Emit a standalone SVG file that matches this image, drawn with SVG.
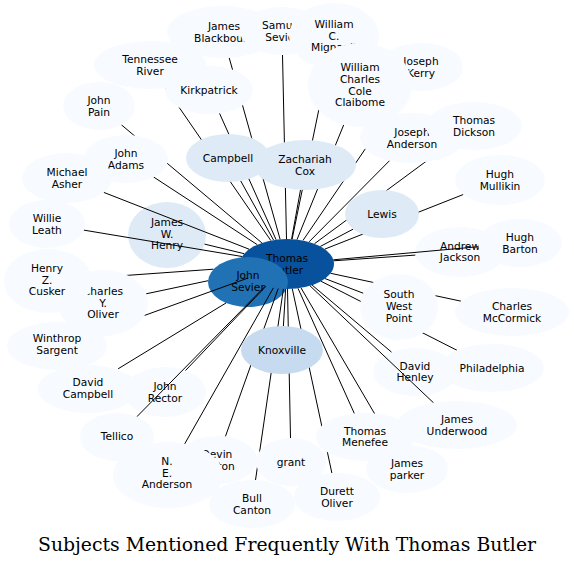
<svg xmlns="http://www.w3.org/2000/svg" width="574" height="567" viewBox="0 0 574 567">
<style>
.a{fill:#f7fbff}
.b{fill:#deebf7}
.c{fill:#c6dbef}
.d{fill:#2171b5}
.e{fill:#08519c}
text{font-family:"DejaVu Sans","Liberation Sans",sans-serif;font-size:10.67px;text-anchor:middle;fill:#000}
#edges line{stroke:#000;stroke-width:1}
.title{font-family:"DejaVu Serif","Liberation Serif",serif;font-size:18.67px}
</style>
<rect width="574" height="567" fill="#fff"/>
<g id="n-thomas-butler"><ellipse class="e" cx="287" cy="264" rx="47" ry="25"/><text x="287" y="261.8">Thomas</text><text x="287" y="273.5">Butler</text></g>
<g id="n-john-sevier"><ellipse class="d" cx="248" cy="282" rx="40" ry="25"/><text x="248" y="278.8">John</text><text x="248" y="290.5">Sevier</text></g>
<g id="n-james-w-henry"><ellipse class="b" cx="167" cy="235" rx="39" ry="33"/><text x="167" y="225.9">James</text><text x="167" y="237.6">W.</text><text x="167" y="249.3">Henry</text></g>
<g id="n-andrew-jackson"><ellipse class="a" cx="460" cy="252" rx="45" ry="25"/><text x="460" y="249.5">Andrew</text><text x="460" y="261.2">Jackson</text></g>
<g id="n-john-rector"><ellipse class="a" cx="165" cy="392" rx="41" ry="25"/><text x="165" y="389.8">John</text><text x="165" y="401.5">Rector</text></g>
<g id="n-david-henley"><ellipse class="a" cx="415" cy="372" rx="42" ry="24"/><text x="415" y="369.5">David</text><text x="415" y="381.2">Henley</text></g>
<g id="edges">
<line x1="280.1" y1="239.3" x2="229.2" y2="57.8"/>
<line x1="286.5" y1="239" x2="282.5" y2="55"/>
<line x1="292.1" y1="239.1" x2="327.3" y2="68.6"/>
<line x1="270.8" y1="240.5" x2="165.8" y2="88"/>
<line x1="276.1" y1="239.7" x2="219.5" y2="113.3"/>
<line x1="303" y1="240.4" x2="405.8" y2="89.4"/>
<line x1="297" y1="239.6" x2="343.7" y2="124.9"/>
<line x1="261.9" y1="242.9" x2="121.4" y2="124.8"/>
<line x1="314.5" y1="243.7" x2="447" y2="145.9"/>
<line x1="309" y1="241.9" x2="389.6" y2="160.6"/>
<line x1="257.3" y1="244.7" x2="153.6" y2="177"/>
<line x1="273.5" y1="240" x2="240.7" y2="180.9"/>
<line x1="291.6" y1="239.1" x2="300.5" y2="189.9"/>
<line x1="249.1" y1="249.2" x2="103.8" y2="192.4"/>
<line x1="324.8" y1="249.1" x2="463.3" y2="194.5"/>
<line x1="320.4" y1="246.4" x2="353.2" y2="229.1"/>
<line x1="242.1" y1="256.5" x2="83.7" y2="230.1"/>
<line x1="244.2" y1="253.7" x2="204.5" y2="244.1"/>
<line x1="333.3" y1="259.8" x2="478.5" y2="246.7"/>
<line x1="333.6" y1="260.8" x2="415.3" y2="255.1"/>
<line x1="213.5" y1="269.2" x2="91.8" y2="277.9"/>
<line x1="208.2" y1="280.7" x2="146.2" y2="293.8"/>
<line x1="325.1" y1="278.6" x2="363.4" y2="293.3"/>
<line x1="330.6" y1="273.3" x2="461.1" y2="301.2"/>
<line x1="248.1" y1="278" x2="97" y2="332.6"/>
<line x1="285.6" y1="289" x2="283.4" y2="326"/>
<line x1="321.1" y1="281.3" x2="457" y2="350.3"/>
<line x1="312.1" y1="285.1" x2="391.5" y2="352.1"/>
<line x1="226" y1="303" x2="118.1" y2="368.8"/>
<line x1="265.9" y1="286.3" x2="185.5" y2="370.5"/>
<line x1="310" y1="285.8" x2="433.6" y2="402.9"/>
<line x1="298" y1="288.3" x2="354.4" y2="413.6"/>
<line x1="265.2" y1="286.2" x2="136.9" y2="416.7"/>
<line x1="278.2" y1="288.6" x2="225.4" y2="436.5"/>
<line x1="287.5" y1="289" x2="290.5" y2="438"/>
<line x1="301" y1="287.9" x2="393.7" y2="446.3"/>
<line x1="273.4" y1="287.9" x2="184.6" y2="444"/>
<line x1="292.3" y1="288.8" x2="331.9" y2="473.1"/>
<line x1="283.4" y1="288.9" x2="255.5" y2="480.1"/>
</g>
<g id="n-james-blackbourn"><ellipse class="a" cx="222" cy="32" rx="55" ry="26"/><text x="224" y="29.8">James</text><text x="224" y="41.5">Blackbourn</text></g>
<g id="n-samuel-sevier"><ellipse class="a" cx="282" cy="31" rx="42" ry="24"/><text x="282" y="28.8">Samuel</text><text x="282" y="40.5">Sevier</text></g>
<g id="n-william-c-mignault"><ellipse class="a" cx="334" cy="36" rx="45" ry="33"/><text x="334" y="27.9">William</text><text x="334" y="39.6">C.</text><text x="334" y="51.3">Mignault</text></g>
<g id="n-joseph-kerry"><ellipse class="a" cx="421" cy="67" rx="42" ry="24"/><text x="421" y="64.8">Joseph</text><text x="421" y="76.5">Kerry</text></g>
<g id="n-william-charles-cole-claiborne"><ellipse class="a" cx="360" cy="85" rx="52" ry="42"/><text x="360" y="71.1">William</text><text x="360" y="82.8">Charles</text><text x="360" y="94.5">Cole</text><text x="360" y="106.2">Claibome</text></g>
<g id="n-tennessee-river"><ellipse class="a" cx="150" cy="65" rx="56" ry="24"/><text x="150" y="62.8">Tennessee</text><text x="150" y="74.5">River</text></g>
<g id="n-kirkpatrick"><ellipse class="a" cx="209" cy="90" rx="44" ry="24"/><text x="209" y="93.6">Kirkpatrick</text></g>
<g id="n-john-pain"><ellipse class="a" cx="99" cy="106" rx="36" ry="24"/><text x="99" y="103.8">John</text><text x="99" y="115.5">Pain</text></g>
<g id="n-joseph-anderson"><ellipse class="a" cx="412" cy="138" rx="52" ry="25"/><text x="412" y="135.8">Joseph</text><text x="412" y="147.5">Anderson</text></g>
<g id="n-thomas-dickson"><ellipse class="a" cx="474" cy="126" rx="48" ry="24"/><text x="474" y="123.8">Thomas</text><text x="474" y="135.5">Dickson</text></g>
<g id="n-hugh-mullikin"><ellipse class="a" cx="500" cy="180" rx="45" ry="25"/><text x="500" y="177.8">Hugh</text><text x="500" y="189.5">Mullikin</text></g>
<g id="n-john-adams"><ellipse class="a" cx="126" cy="159" rx="42" ry="24"/><text x="126" y="156.8">John</text><text x="126" y="168.5">Adams</text></g>
<g id="n-michael-asher"><ellipse class="a" cx="67" cy="178" rx="45" ry="25"/><text x="67" y="175.8">Michael</text><text x="67" y="187.5">Asher</text></g>
<g id="n-campbell"><ellipse class="b" cx="228" cy="158" rx="42" ry="24"/><text x="228" y="161.6">Campbell</text></g>
<g id="n-zachariah-cox"><ellipse class="b" cx="305" cy="165" rx="51" ry="25"/><text x="305" y="162.8">Zachariah</text><text x="305" y="174.5">Cox</text></g>
<g id="n-lewis"><ellipse class="b" cx="382" cy="214" rx="37" ry="24"/><text x="382" y="217.6">Lewis</text></g>
<g id="n-willie-leath"><ellipse class="a" cx="47" cy="224" rx="38" ry="24"/><text x="47" y="221.8">Willie</text><text x="47" y="233.5">Leath</text></g>
<g id="n-hugh-barton"><ellipse class="a" cx="520" cy="243" rx="42" ry="24"/><text x="520" y="240.8">Hugh</text><text x="520" y="252.5">Barton</text></g>
<g id="n-charles-y-oliver"><ellipse class="a" cx="103" cy="303" rx="45" ry="33"/><text x="103" y="294.9">Charles</text><text x="103" y="306.6">Y.</text><text x="103" y="318.3">Oliver</text></g>
<g id="n-henry-z-cusker"><ellipse class="a" cx="48" cy="281" rx="44" ry="32"/><text x="47" y="271.9">Henry</text><text x="47" y="283.6">Z.</text><text x="47" y="295.3">Cusker</text></g>
<g id="n-south-west-point"><ellipse class="a" cx="399" cy="307" rx="39" ry="33"/><text x="399" y="298.4">South</text><text x="399" y="310.1">West</text><text x="399" y="321.8">Point</text></g>
<g id="n-charles-mccormick"><ellipse class="a" cx="512" cy="312" rx="57" ry="24"/><text x="512" y="309.8">Charles</text><text x="512" y="321.5">McCormick</text></g>
<g id="n-winthrop-sargent"><ellipse class="a" cx="57" cy="346" rx="50" ry="24"/><text x="57" y="342">Winthrop</text><text x="57" y="353.7">Sargent</text></g>
<g id="n-knoxville"><ellipse class="c" cx="282" cy="350" rx="41" ry="24"/><text x="282" y="353.6">Knoxville</text></g>
<g id="n-philadelphia"><ellipse class="a" cx="492" cy="368" rx="52" ry="24"/><text x="492" y="371.6">Philadelphia</text></g>
<g id="n-david-campbell"><ellipse class="a" cx="88" cy="389" rx="50" ry="24"/><text x="88" y="386">David</text><text x="88" y="397.7">Campbell</text></g>
<g id="n-james-underwood"><ellipse class="a" cx="457" cy="425" rx="60" ry="24"/><text x="457" y="422.8">James</text><text x="457" y="434.5">Underwood</text></g>
<g id="n-thomas-menefee"><ellipse class="a" cx="365" cy="437" rx="49" ry="24"/><text x="365" y="434.5">Thomas</text><text x="365" y="446.2">Menefee</text></g>
<g id="n-tellico"><ellipse class="a" cx="117" cy="437" rx="37" ry="24"/><text x="117" y="440.2">Tellico</text></g>
<g id="n-devin-barton"><ellipse class="a" cx="217" cy="460" rx="40" ry="24"/><text x="217" y="457.8">Devin</text><text x="217" y="469.5">Barton</text></g>
<g id="n-n-e-anderson"><ellipse class="a" cx="168" cy="475" rx="55" ry="33"/><text x="167" y="465">N.</text><text x="167" y="476.7">E.</text><text x="167" y="488.4">Anderson</text></g>
<g id="n-grant"><ellipse class="a" cx="291" cy="462" rx="35" ry="24"/><text x="291" y="465.6">grant</text></g>
<g id="n-bull-canton"><ellipse class="a" cx="252" cy="504" rx="43" ry="24"/><text x="252" y="501.8">Bull</text><text x="252" y="513.5">Canton</text></g>
<g id="n-james-parker"><ellipse class="a" cx="407" cy="469" rx="41" ry="24"/><text x="407" y="466.8">James</text><text x="407" y="478.5">parker</text></g>
<g id="n-durett-oliver"><ellipse class="a" cx="337" cy="497" rx="43" ry="24"/><text x="337" y="494.8">Durett</text><text x="337" y="506.5">Oliver</text></g>
<text class="title" x="287" y="551" textLength="498" lengthAdjust="spacingAndGlyphs">Subjects Mentioned Frequently With Thomas Butler</text>
</svg>
